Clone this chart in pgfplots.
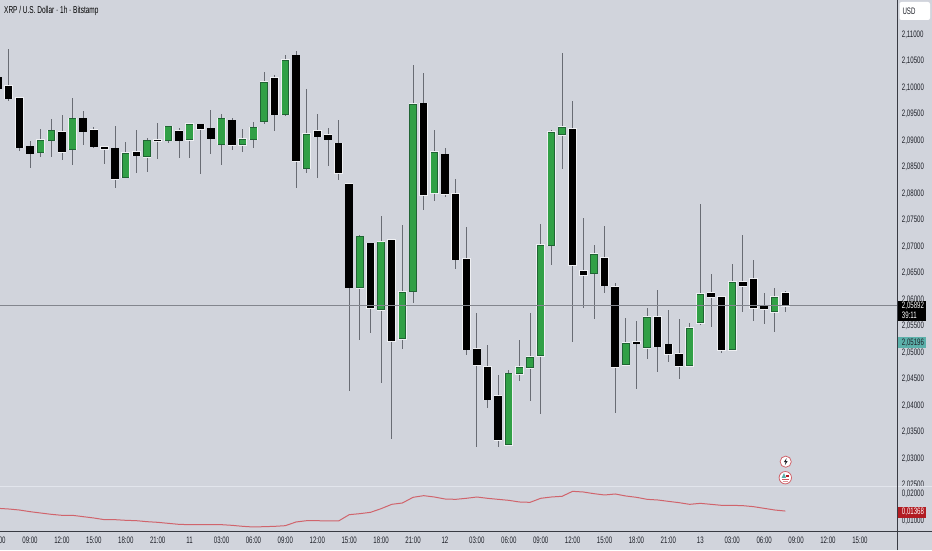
\documentclass[border=0pt]{standalone}
\usepackage{fontspec}
\setmainfont[FakeStretch=0.65]{Liberation Sans}
\usepackage{pgfplots}
\usepackage{pgfplotstable}
\pgfplotsset{compat=1.18}

\definecolor{bg}{RGB}{209,212,220}
\definecolor{upgreen}{RGB}{49,160,70}
\definecolor{upedge}{RGB}{32,100,52}
\definecolor{wick}{RGB}{105,108,116}
\definecolor{txt}{RGB}{30,32,40}
\definecolor{sep}{RGB}{226,229,236}
\definecolor{redline}{RGB}{208,100,108}
\definecolor{tagteal}{RGB}{92,176,170}
\definecolor{tagred}{RGB}{178,28,34}

% h low bot top high
\pgfplotstableread{
h low bot top high
6 2.09950 2.09988 2.10190 2.10250
7 2.09756 2.09800 2.10032 2.10730
8 2.08812 2.08875 2.09800 2.09800
9 2.08479 2.08762 2.08888 2.08999
12 2.08630 2.08793 2.09165 2.09485
14 2.08919 2.09171 2.09416 2.09561
15 2.08863 2.08888 2.09196 2.09253
16 2.08555 2.08850 2.08875 2.08888
17 2.08114 2.08278 2.08850 2.09278
19 2.08397 2.08718 2.08781 2.09196
21 2.08655 2.08989 2.09014 2.09328
23 2.08680 2.09007 2.09177 2.09240
25 2.08366 2.09221 2.09303 2.09315
26 2.08743 2.09045 2.09227 2.09573
28 2.08819 2.08919 2.09378 2.09422
32 2.09190 2.09498 2.10177 2.10234
34 2.08102 2.08617 2.10605 2.10687
36 2.08290 2.09083 2.09177 2.09504
37 2.08517 2.09020 2.09102 2.09234
38 2.08265 2.08391 2.08944 2.09385
39 2.04272 2.06234 2.08183 2.08183
41 2.05377 2.05849 2.07057 2.07057
43 2.03377 2.05221 2.07121 2.07121
46 2.07692 2.07975 2.09698 2.10272
48 2.07938 2.08000 2.08736 2.08862
49 2.06574 2.06762 2.07994 2.08283
50 2.04957 2.05064 2.06768 2.07377
51 2.03226 2.04768 2.05064 2.05743
52 2.03962 2.04121 2.04725 2.05151
53 2.03221 2.03353 2.04183 2.04579
60 2.05196 2.06655 2.09226 2.09749
61 2.05838 2.06466 2.06541 2.07536
63 2.06132 2.06272 2.06781 2.07385
64 2.03857 2.04730 2.06234 2.06309
66 2.04321 2.05177 2.05202 2.05592
68 2.04642 2.05121 2.05679 2.06177
69 2.04825 2.04981 2.05151 2.05806
70 2.04509 2.04755 2.04976 2.05630
73 2.05491 2.06051 2.06121 2.06479
74 2.04989 2.05057 2.06045 2.06045
76 2.05774 2.06264 2.06334 2.07221
77 2.05598 2.05843 2.06391 2.06755
78 2.05536 2.05825 2.05875 2.06126
80 2.05762 2.05881 2.06121 2.06164
}\downcandles

\pgfplotstableread{
h low bot top high
10 2.08693 2.08781 2.09014 2.09227
11 2.08693 2.09007 2.09190 2.09404
13 2.08548 2.08838 2.09416 2.09812
18 2.08303 2.08303 2.08768 2.08976
20 2.08416 2.08693 2.09001 2.09051
22 2.08963 2.09001 2.09265 2.09271
24 2.08680 2.09014 2.09309 2.09315
27 2.08542 2.08932 2.09416 2.09504
29 2.08781 2.08919 2.09026 2.09227
30 2.08869 2.09026 2.09246 2.09347
31 2.09322 2.09366 2.10108 2.10303
33 2.09460 2.09492 2.10523 2.10617
35 2.08397 2.08479 2.09121 2.09970
40 2.05245 2.06226 2.07189 2.07221
42 2.04434 2.05811 2.07094 2.07574
44 2.05070 2.05264 2.06145 2.07409
45 2.05938 2.06158 2.09687 2.10428
47 2.07857 2.08008 2.08787 2.09202
54 2.03240 2.03264 2.04604 2.04668
55 2.04472 2.04604 2.04725 2.05240
56 2.04094 2.04717 2.04919 2.05743
57 2.03849 2.04943 2.07026 2.07423
58 2.06660 2.07026 2.09164 2.09202
59 2.08466 2.09107 2.09253 2.10655
62 2.05630 2.06498 2.06857 2.07026
65 2.04768 2.04768 2.05177 2.05649
67 2.04881 2.05094 2.05668 2.05838
71 2.04725 2.04755 2.05466 2.05555
72 2.05528 2.05566 2.06107 2.07806
75 2.05057 2.05057 2.06334 2.06668
79 2.05396 2.05774 2.06045 2.06221
}\upcandles

\pgfplotstableread{
h v
6 .01469
7 .01444
8 .01407
9 .01346
10 .01296
11 .01247
12 .01210
13 .01210
14 .01160
15 .01111
16 .01049
17 .01049
18 .01025
19 .01012
20 .00975
21 .00951
22 .00913
23 .00876
24 .00864
25 .00864
26 .00864
27 .00864
28 .00839
29 .00802
30 .00778
31 .00790
32 .00802
33 .00827
34 .00963
35 .01012
36 .01012
37 .01000
38 .01000
39 .01234
40 .01272
41 .01321
42 .01457
43 .01617
44 .01667
45 .01877
46 .01938
47 .01889
48 .01815
49 .01802
50 .01840
51 .01889
52 .01840
53 .01802
54 .01765
55 .01704
56 .01691
57 .01840
58 .01889
59 .01914
60 .02099
61 .02074
62 .02012
63 .01963
64 .02000
65 .01926
66 .01877
67 .01802
68 .01778
69 .01728
70 .01679
71 .01617
72 .01654
73 .01617
74 .01580
75 .01580
76 .01568
77 .01531
78 .01469
79 .01407
80 .01368
}\indicator

\newcommand{\lbl}{\fontsize{9.4}{10}\selectfont}

\pgfplotsset{
  pane/.style={
    scale only axis, anchor=south west,
    width=897.5pt,
    xmin=6.1805, xmax=90.533,
    axis line style={draw=none},
    tick style={draw=none},
    major tick length=0pt,
    yticklabel pos=right,
    scaled y ticks=false,
    yticklabel style={anchor=west, inner sep=0pt, xshift=4.2pt, font=\lbl, text=txt,
      /pgf/number format/fixed, /pgf/number format/fixed zerofill, /pgf/number format/precision=5,
      /pgf/number format/use comma, /pgf/number format/assume math mode=true},
  },
  % thick error bars make the candle bodies
  body/.style args={#1/#2}{
    draw=none, mark=none, forget plot,
    error bars/.cd, y dir=plus, y explicit, error mark=none,
    error bar style={draw=#1, line width=#2pt, line cap=butt},
  },
}

\newcommand{\candles}[5]{% table, halo color, edge color, fill color, inset
  \addplot[body=#2/8.6] table[x=h, y expr=\thisrow{bot}-0.00016, y error plus expr=\thisrow{top}-\thisrow{bot}+0.00032] {#1};
  \addplot[body=#3/7.4] table[x=h, y expr=\thisrow{bot}-0.00004, y error plus expr=\thisrow{top}-\thisrow{bot}+0.00008] {#1};
  \addplot[body=#4/6.2] table[x=h, y expr=\thisrow{bot}+#5, y error plus expr=\thisrow{top}-\thisrow{bot}-2*#5] {#1};
}
\newcommand{\wicks}[1]{%
  \addplot[draw=none, mark=none, forget plot,
    error bars/.cd, y dir=both, y explicit, error mark=none,
    error bar style={draw=wick, line width=0.8pt}]
    table[x=h, y=bot, y error plus expr=\thisrow{high}-\thisrow{bot}, y error minus expr=\thisrow{bot}-\thisrow{low}] {#1};
}

\begin{document}
\begin{tikzpicture}[x=1pt,y=1pt]
\fill[bg] (0,0) rectangle (932,550);
\useasboundingbox (0,0) rectangle (932,550);

% price pane
\begin{axis}[pane, at={(0pt,64pt)}, height=486pt,
  ymin=2.02485, ymax=2.116547,
  xtick=\empty,
  ytick={2.025,2.03,2.035,2.04,2.045,2.05,2.055,2.06,2.065,2.07,2.075,2.08,2.085,2.09,2.095,2.10,2.105,2.11},
]
\wicks{\downcandles}
\wicks{\upcandles}
\candles{\downcandles}{white!65!bg}{black}{black}{0}
\candles{\upcandles}{white!65!bg}{upedge}{upgreen}{0.00012}
\addplot[color=wick!75!bg, line width=0.7pt, forget plot] coordinates {(6.1805,2.05885)(90.533,2.05885)};
\end{axis}

% covers the price label cut at the pane edge
\fill[bg] (0,0) rectangle (932,63.5);

% indicator pane
\begin{axis}[pane, at={(0pt,18.5pt)}, height=45.5pt,
  ymin=0.00611, ymax=0.02296,
  ytick={0.01,0.02},
  xtick={9,12,...,87},
  xticklabels={09:00,12:00,15:00,18:00,21:00,11,03:00,06:00,09:00,12:00,15:00,18:00,21:00,12,03:00,06:00,09:00,12:00,15:00,18:00,21:00,13,03:00,06:00,09:00,12:00,15:00},
  xticklabel style={font=\lbl, text=txt, inner sep=0pt, yshift=-5.5pt},
]
\addplot[color=redline, line width=1pt] table[x=h, y=v] {\indicator};
\end{axis}

% pane lines
\draw[sep, line width=1pt] (0,63.8) -- (932,63.8);
\draw[color=txt!85!bg, line width=1pt] (0,18.4) -- (932,18.4);
\draw[color=txt!85!bg, line width=1pt] (897.6,0) -- (897.6,550);

\node[font=\lbl, text=txt, inner sep=0pt] at (-2,10) {06:00};
\node[anchor=west, font=\fontsize{10}{11}\selectfont, text=black, inner sep=0pt] at (4,538.8) {XRP / U.S. Dollar · 1h · Bitstamp};

% USD button
\fill[white, rounded corners=2pt] (899.5,530) rectangle (930,548);
\node[font=\lbl, text=txt, inner sep=0pt] at (909,538.5) {USD};

% price tags
\fill[black] (898,229.3) rectangle (926,249.3);
\node[font=\lbl, text=white, inner sep=0pt, anchor=west] at (901.7,244.2) {2,05892};
\node[font=\lbl, text=white, inner sep=0pt, anchor=west] at (901.7,234.6) {39:11};
\fill[tagteal] (898,201.7) rectangle (926,212.7);
\node[font=\lbl, text=txt, inner sep=0pt, anchor=west] at (901.7,207.2) {2,05196};
\fill[tagred] (898,32) rectangle (926,43.3);
\node[font=\lbl, text=white, inner sep=0pt, anchor=west] at (901.7,37.7) {0,01368};

% event icons
\draw[fill=white, draw=redline, line width=0.8pt] (785.7,88.3) circle (5.6);
\fill[txt] (786.6,92) -- (783.8,87.8) -- (785.6,87.8) -- (784.8,84.6) -- (787.6,88.9) -- (785.9,88.9) -- cycle;
\draw[fill=white, draw=redline, line width=0.8pt] (785.3,72.3) circle (6.2);
\fill[tagteal] (781.6,72.2) -- (784,77) -- (786,72.2) -- cycle;
\fill[tagred] (786.4,72.6) rectangle (789.4,75);
\fill[tagred!70] (781.6,70) rectangle (789.2,71);
\fill[redline!70] (782.6,68.2) rectangle (788.2,69.2);
\end{tikzpicture}
\end{document}
